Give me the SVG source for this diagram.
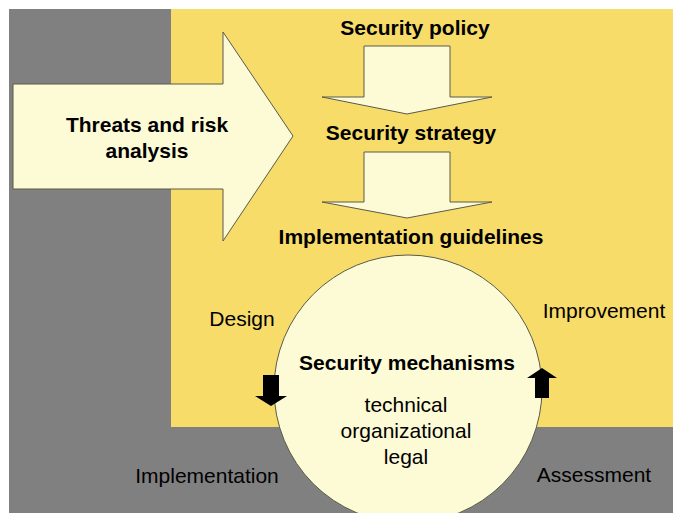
<svg xmlns="http://www.w3.org/2000/svg" width="673" height="513" viewBox="0 0 673 513">
<style>
.shape{fill:#FDFBD6;stroke:#5a5a4a;stroke-width:1}
.b{font-family:"Liberation Sans",Arial,sans-serif;font-weight:bold;font-size:21px;fill:#000;text-anchor:middle}
.r{font-family:"Liberation Sans",Arial,sans-serif;font-size:21px;fill:#000;text-anchor:middle}
.blk{fill:#000;stroke:none}
</style>
<rect x="0" y="0" width="673" height="513" fill="#fff"/>
<g id="background">
<rect x="9" y="9" width="664" height="504" fill="#808080"/>
<rect x="171" y="9" width="502" height="418" fill="#F7DC6A"/>
</g>
<g id="threats">
<polygon class="shape" points="13,84 223,84 223,32 293,136 223,241 223,189 13,189"/>
<text class="b" x="147" y="132">Threats and risk</text>
<text class="b" x="147" y="158">analysis</text>
</g>
<g id="connectors">
<polygon class="shape" points="364,46 450,46 450,97 492,97 407,114 322,97 364,97"/>
<polygon class="shape" points="364,152 450,152 450,202 492,202 407,218 322,202 364,202"/>
</g>
<g id="policy"><text class="b" x="415" y="35">Security policy</text></g>
<g id="strategy"><text class="b" x="411" y="140">Security strategy</text></g>
<g id="guidelines"><text class="b" x="411" y="244">Implementation guidelines</text></g>
<g id="mechanisms">
<circle class="shape" cx="408" cy="389" r="134"/>
<text class="b" x="407" y="370">Security mechanisms</text>
<text class="r" x="406" y="412">technical</text>
<text class="r" x="406" y="438">organizational</text>
<text class="r" x="406" y="464">legal</text>
</g>
<g id="cycle-arrows">
<polygon class="blk" points="263,375 279,375 279,396 287,396 271,406 255,396 263,396"/>
<polygon class="blk" points="542,368 557,378 549,378 549,398 535,398 535,378 527,378"/>
</g>
<g id="labels">
<text class="r" x="242" y="326">Design</text>
<text class="r" x="604" y="318">Improvement</text>
<text class="r" x="207" y="483">Implementation</text>
<text class="r" x="594" y="482">Assessment</text>
</g>
</svg>
